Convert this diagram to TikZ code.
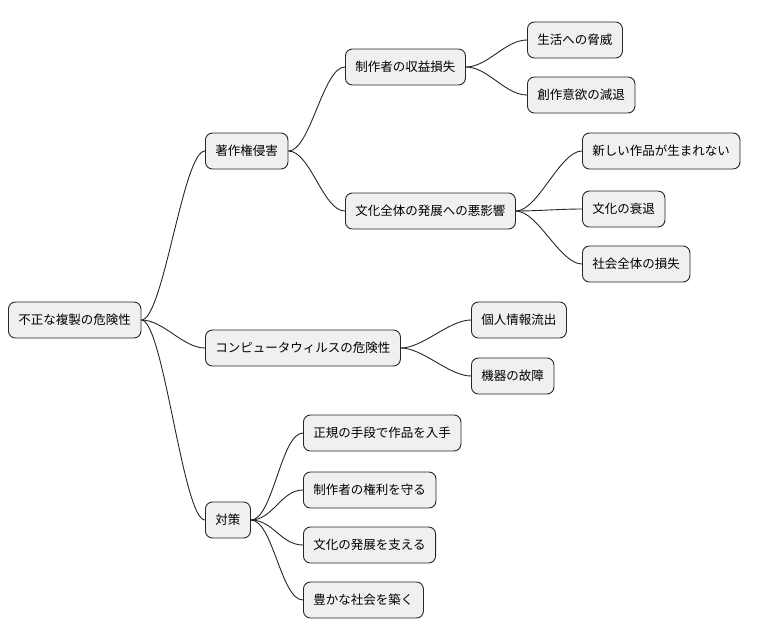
\documentclass[tikz,border=0pt]{standalone}
\usepackage{fontspec}
\setmainfont{Noto Sans CJK JP}
\begin{document}
\begin{tikzpicture}[x=1pt,y=-1pt,
  mm/.style={draw=black!85,line width=0.9pt,fill=black!6,rounded corners=7pt,minimum height=36pt,inner xsep=10pt,anchor=west,font=\fontsize{12.5}{15}\selectfont},
  ln/.style={draw=black!85,line width=0.9pt}]
\useasboundingbox (0,0) rectangle (768,640);
\node[mm] (r) at (8,320) {不正な複製の危険性};
\node[mm] (a) at (205,151) {著作権侵害};
\node[mm] (a1) at (345,67) {制作者の収益損失};
\node[mm] (a11) at (527,40) {生活への脅威};
\node[mm] (a12) at (527,95) {創作意欲の減退};
\node[mm] (a2) at (345,211) {文化全体の発展への悪影響};
\node[mm] (a21) at (582,151) {新しい作品が生まれない};
\node[mm] (a22) at (582,209) {文化の衰退};
\node[mm] (a23) at (582,264) {社会全体の損失};
\node[mm] (b) at (205,348) {コンピュータウィルスの危険性};
\node[mm] (b1) at (471,320) {個人情報流出};
\node[mm] (b2) at (471,376) {機器の故障};
\node[mm] (c) at (205,520) {対策};
\node[mm] (c1) at (303,433) {正規の手段で作品を入手};
\node[mm] (c2) at (303,490) {制作者の権利を守る};
\node[mm] (c3) at (303,545) {文化の発展を支える};
\node[mm] (c4) at (303,600) {豊かな社会を築く};
\foreach \p/\c in {r/a,r/b,r/c,a/a1,a/a2,a1/a11,a1/a12,a2/a21,a2/a22,a2/a23,b/b1,b/b2,c/c1,c/c2,c/c3,c/c4}
  \draw[ln] (\p.east) .. controls +(22,0) and +(-22,0) .. (\c.west);
\end{tikzpicture}
\end{document}
